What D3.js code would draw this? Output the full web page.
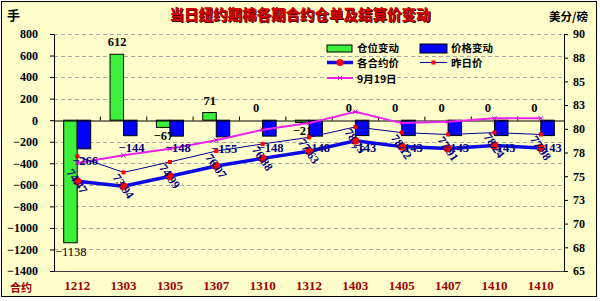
<!DOCTYPE html>
<html>
<head>
<meta charset="utf-8">
<script src="https://cdn.jsdelivr.net/npm/d3@7"></script>
<style>
  html, body { margin: 0; padding: 0; background: #fff; }
  svg { display: block; }
</style>
</head>
<body>
<div id="chart"></div>
<script>
const categories = ["1212","1303","1305","1307","1310","1312","1403","1405","1407","1410","1410"]
const positionChange = [-1138, 612, -67, 71, 0, -21, 0, 0, 0, 0, 0]
const priceChange = [-266, -144, -148, -155, -148, -148, -143, -143, -143, -143, -143]
const contractPrice = [74.47, 73.94, 74.99, 76.07, 76.88, 77.63, 78.73, 78.12, 77.91, 78.24, 77.98]
const prevPrice = [77.1, 75.4, 76.5, 77.65, 78.4, 79.1, 80.2, 79.6, 79.4, 79.6, 79.4]
const sep19Price = [76.4, 77.2, 77.9, 78.8, 79.9, 80.6, 81.8, 80.6, 80.75, 81.1, 81.1]
const leftTicks = d3.range(-1400, 801, 200)
const rightTicks = d3.range(65, 90.01, 2.5)

drawChart("#chart")

function drawChart(id){
    const canvas = {width: 600, height: 301, margin: {top: 34, bottom: 30, left: 54, right: 36}}
    const svg = d3.select(id).append("svg").attr("width", canvas.width).attr("height", canvas.height)
    const sc = addScales(canvas)

    addBackground(svg, canvas)
    addGrid(svg, sc, canvas)
    addBars(svg, sc)
    addAxes(svg, sc, canvas)
    addLines(svg, sc)
    addBarLabels(svg, sc)
    addLineLabels(svg, sc)
    addLegend(svg)
    addTitles(svg)
}

function addScales(canvas){
    const xScale = d3.scaleBand().domain(d3.range(categories.length))
        .range([canvas.margin.left, canvas.width - canvas.margin.right])
    const yLeft = d3.scaleLinear().domain([-1400, 800])
        .range([canvas.height - canvas.margin.bottom, canvas.margin.top])
    const yRight = d3.scaleLinear().domain([65, 90])
        .range([canvas.height - canvas.margin.bottom, canvas.margin.top])
    const cx = i => xScale(i) + xScale.bandwidth() / 2
    return {xScale, yLeft, yRight, cx}
}

function addBackground(svg, canvas){
    svg.append("rect").attr("x", 1.5).attr("y", 1.5).attr("width", 595).attr("height", 295)
        .attr("fill", "#ffffcc").attr("stroke", "#000").attr("stroke-width", 1)
}

function addGrid(svg, sc, canvas){
    svg.append("g").selectAll("line").data(leftTicks.filter(d => d !== 0 && d !== -1400)).join("line")
        .attr("x1", canvas.margin.left).attr("x2", canvas.width - canvas.margin.right)
        .attr("y1", d => Math.round(sc.yLeft(d)) + 0.5).attr("y2", d => Math.round(sc.yLeft(d)) + 0.5)
        .attr("stroke", "#a8a8a8").attr("stroke-dasharray", "4 3")
}

function addBars(svg, sc){
    const bw = 13.5
    const g = svg.append("g").attr("stroke", "#000").attr("stroke-width", 1)
    g.selectAll(".pos").data(positionChange).join("rect")
        .attr("x", (d, i) => sc.cx(i) - bw).attr("width", bw)
        .attr("y", d => sc.yLeft(Math.max(0, d))).attr("height", d => Math.abs(sc.yLeft(d) - sc.yLeft(0)))
        .attr("fill", "#3cf03c")
    g.selectAll(".price").data(priceChange).join("rect")
        .attr("x", (d, i) => sc.cx(i)).attr("width", bw)
        .attr("y", d => sc.yLeft(Math.max(0, d))).attr("height", d => Math.abs(sc.yLeft(d) - sc.yLeft(0)))
        .attr("fill", "#0000ff")
}

function addAxes(svg, sc, canvas){
    const font = "'Liberation Serif', 'Times New Roman', serif"
    const left = svg.append("g").attr("transform", `translate(${canvas.margin.left},0)`)
        .call(d3.axisLeft(sc.yLeft).tickValues(leftTicks).tickSize(4).tickPadding(12).tickFormat(d3.format("d")))
    const right = svg.append("g").attr("transform", `translate(${canvas.width - canvas.margin.right},0)`)
        .call(d3.axisRight(sc.yRight).tickValues(rightTicks).tickSize(4).tickPadding(5).tickFormat(d => d.toFixed(0)))
    for (const ax of [left, right]) {
        ax.select(".domain").attr("stroke", "#000")
        ax.selectAll("line").attr("stroke", "#000")
        ax.selectAll("text").attr("font-family", font).attr("font-weight", "bold").attr("font-size", 12).attr("fill", "#000")
    }

    // bottom edge of plot
    const yb = canvas.height - canvas.margin.bottom
    svg.append("line").attr("x1", canvas.margin.left).attr("x2", canvas.width - canvas.margin.right)
        .attr("y1", yb + 0.5).attr("y2", yb + 0.5).attr("stroke", "#404040")

    // category axis crosses at zero
    const y0 = Math.round(sc.yLeft(0)) + 0.5
    const zero = svg.append("g").attr("transform", `translate(0,${y0})`)
        .call(d3.axisTop(sc.xScale).tickSize(0).tickFormat(""))
    zero.select(".domain").attr("stroke", "#000")
    zero.selectAll(".bound").data(d3.range(1, categories.length)).join("line")
        .attr("x1", i => sc.xScale(i)).attr("x2", i => sc.xScale(i))
        .attr("y1", 0).attr("y2", -4).attr("stroke", "#000")

    svg.append("g").selectAll("text").data(categories).join("text")
        .attr("x", (d, i) => sc.cx(i)).attr("y", 290).attr("text-anchor", "middle")
        .attr("font-family", font).attr("font-weight", "bold").attr("font-size", 13)
        .attr("fill", "#a00000").text(d => d)
}

function addLines(svg, sc){
    const line = arr => d3.line().x((d, i) => sc.cx(i)).y(d => sc.yRight(d))(arr)

    svg.append("path").attr("d", line(sep19Price)).attr("fill", "none")
        .attr("stroke", "#ee22ee").attr("stroke-width", 2)
    svg.append("g").selectAll("path").data(sep19Price).join("path")
        .attr("transform", (d, i) => `translate(${sc.cx(i)},${sc.yRight(d)})`)
        .attr("d", d3.symbol(d3.symbolX, 14)()).attr("stroke", "#cc00cc").attr("stroke-width", 1)

    svg.append("path").attr("d", line(prevPrice)).attr("fill", "none")
        .attr("stroke", "#000099").attr("stroke-width", 1)
    svg.append("g").selectAll("rect").data(prevPrice).join("rect")
        .attr("x", (d, i) => sc.cx(i) - 2).attr("y", d => sc.yRight(d) - 2)
        .attr("width", 4).attr("height", 4).attr("fill", "#ff0000")

    svg.append("path").attr("d", line(contractPrice)).attr("fill", "none")
        .attr("stroke", "#0a0ae6").attr("stroke-width", 3.5)
    svg.append("g").selectAll("circle").data(contractPrice).join("circle")
        .attr("cx", (d, i) => sc.cx(i)).attr("cy", d => sc.yRight(d)).attr("r", 4)
        .attr("fill", "#ff0000")
}

function addBarLabels(svg, sc){
    const font = "'Liberation Serif', 'Times New Roman', serif"
    const fmt = d3.format("d")
    svg.append("g").selectAll("text").data(positionChange).join("text")
        .attr("x", (d, i) => sc.cx(i) - 6.5)
        .attr("y", d => d >= 0 ? sc.yLeft(d) - 8 : sc.yLeft(d) + 13)
        .attr("text-anchor", "middle").attr("font-family", font)
        .attr("font-weight", d => d < -1000 ? "normal" : "bold").attr("font-size", 12.5)
        .attr("fill", "#000").text(d => fmt(d))
    svg.append("g").selectAll("text").data(priceChange).join("text")
        .attr("x", (d, i) => sc.cx(i) + 8)
        .attr("y", d => sc.yLeft(d) + 16)
        .attr("text-anchor", "middle").attr("font-family", font)
        .attr("font-weight", "bold").attr("font-size", 12.5)
        .attr("fill", "#000080").text(d => fmt(d))
}

function addLineLabels(svg, sc){
    svg.append("g").selectAll("text").data(contractPrice).join("text")
        .attr("transform", (d, i) => `translate(${sc.cx(i)},${sc.yRight(d)}) rotate(55)`)
        .attr("text-anchor", "middle").attr("dy", "0.35em")
        .attr("font-family", "'Liberation Serif', 'Times New Roman', serif")
        .attr("font-weight", "bold").attr("font-size", 12)
        .attr("fill", "#000080").text(d => d.toFixed(2))
}

function addLegend(svg){
    const font = "'Noto Sans CJK SC', sans-serif"
    const g = svg.append("g").attr("font-family", font).attr("font-weight", "bold").attr("font-size", 10.5)

    g.append("rect").attr("x", 327).attr("y", 45).attr("width", 25).attr("height", 7)
        .attr("fill", "#3cf03c").attr("stroke", "#000")
    g.append("text").attr("x", 357).attr("y", 51.5).text("仓位变动")
    g.append("rect").attr("x", 420).attr("y", 44).attr("width", 27).attr("height", 9)
        .attr("fill", "#0000ff").attr("stroke", "#000")
    g.append("text").attr("x", 451).attr("y", 51.5).text("价格变动")

    g.append("line").attr("x1", 327).attr("x2", 353).attr("y1", 62.5).attr("y2", 62.5)
        .attr("stroke", "#0a0ae6").attr("stroke-width", 3.5)
    g.append("circle").attr("cx", 340).attr("cy", 62.5).attr("r", 3.5).attr("fill", "#ff0000")
    g.append("text").attr("x", 357).attr("y", 67).text("各合约价")

    g.append("line").attr("x1", 420).attr("x2", 447).attr("y1", 62.5).attr("y2", 62.5)
        .attr("stroke", "#000099").attr("stroke-width", 1)
    g.append("rect").attr("x", 431.5).attr("y", 60.5).attr("width", 4).attr("height", 4).attr("fill", "#ff0000")
    g.append("text").attr("x", 451).attr("y", 67).text("昨日价")

    g.append("line").attr("x1", 327).attr("x2", 353).attr("y1", 78).attr("y2", 78)
        .attr("stroke", "#ee22ee").attr("stroke-width", 2)
    g.append("path").attr("transform", "translate(340,78)")
        .attr("d", d3.symbol(d3.symbolX, 14)()).attr("stroke", "#cc00cc")
    g.append("text").attr("x", 357).attr("y", 82.5).text("9月19日")
}

function addTitles(svg){
    const font = "'Noto Sans CJK SC', sans-serif"
    svg.append("text").attr("x", 301).attr("y", 21).attr("text-anchor", "middle")
        .attr("font-family", font).attr("font-weight", 900).attr("font-size", 14.5)
        .attr("fill", "#400000").text("当日纽约期棉各期合约仓单及结算价变动")
    svg.append("text").attr("x", 300).attr("y", 20).attr("text-anchor", "middle")
        .attr("font-family", font).attr("font-weight", 900).attr("font-size", 14.5)
        .attr("fill", "#d00000").text("当日纽约期棉各期合约仓单及结算价变动")

    svg.append("text").attr("x", 7).attr("y", 20).attr("font-family", font)
        .attr("font-weight", "bold").attr("font-size", 13).text("手")
    svg.append("text").attr("x", 549).attr("y", 21).attr("font-family", font)
        .attr("font-weight", "bold").attr("font-size", 11.5).text("美分/磅")
    svg.append("text").attr("x", 10).attr("y", 292).attr("font-family", font)
        .attr("font-weight", "bold").attr("font-size", 11).attr("fill", "#a00000").text("合约")
}
</script>
</body>
</html>
